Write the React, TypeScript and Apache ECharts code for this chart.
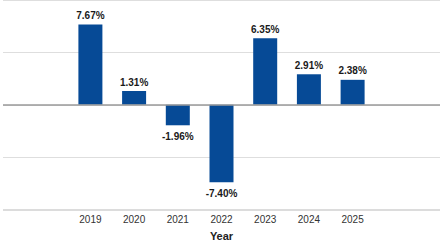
import React, { useEffect, useRef } from "react";
import * as echarts from "echarts";

// Annual change by year, in percent
const years: number[] = [2019, 2020, 2021, 2022, 2023, 2024, 2025];
const changes: number[] = [7.67, 1.31, -1.96, -7.4, 6.35, 2.91, 2.38];
const axisTitle = "Year";

const BAR_COLOR = "#064a96";
const LABEL_FONT = '"Liberation Sans Narrow", "Arial Narrow", "Liberation Sans", Arial, sans-serif';

export default function App() {
  const ref = useRef<HTMLDivElement>(null);

  useEffect(() => {
    if (!ref.current) return;
    const chart = echarts.init(ref.current, undefined, { renderer: "svg" });

    const data = years.map((y, i) => ({
      value: [y, changes[i]],
      label:
        changes[i] < 0
          ? { position: "bottom", distance: 6 }
          : { position: "top", distance: 4 },
    }));

    chart.setOption({
      animation: false,
      backgroundColor: "#ffffff",
      grid: { left: 0, right: 0, top: 0, bottom: 37.5, containLabel: false },
      xAxis: {
        type: "value",
        min: 2017,
        max: 2027,
        interval: 1,
        name: axisTitle,
        nameLocation: "middle",
        nameGap: 21,
        nameTextStyle: {
          fontFamily: LABEL_FONT,
          fontWeight: "bold",
          fontSize: 11,
          color: "#222",
        },
        axisLine: { show: false, onZero: false },
        axisTick: { show: false },
        splitLine: { show: false },
        axisLabel: {
          margin: 5,
          fontFamily: LABEL_FONT,
          fontSize: 10,
          color: "#333",
          formatter: (v: number) => (years.indexOf(v) >= 0 ? String(v) : ""),
        },
      },
      yAxis: {
        type: "value",
        min: -10,
        max: 10,
        interval: 5,
        axisLabel: { show: false },
        axisLine: { show: false },
        axisTick: { show: false },
        splitLine: { show: true, lineStyle: { color: "#dedede", width: 1 } },
      },
      series: [
        {
          type: "bar",
          barWidth: 24,
          data,
          itemStyle: { color: BAR_COLOR },
          label: {
            show: true,
            fontFamily: LABEL_FONT,
            fontWeight: "bold",
            fontSize: 10,
            color: "#1a1a1a",
            formatter: (p: any) => p.value[1].toFixed(2) + "%",
          },
          markLine: {
            silent: true,
            symbol: "none",
            label: { show: false },
            data: [
              { yAxis: 0, lineStyle: { color: "#9a9a9a", width: 1.5, type: "solid" } },
              { yAxis: -10, lineStyle: { color: "#dcdcdc", width: 2, type: "solid" } },
            ],
          },
        },
      ],
    });

    return () => chart.dispose();
  }, []);

  return (
    <div
      ref={ref}
      style={{ position: "fixed", left: 0, top: 0, width: 443, height: 247 }}
    />
  );
}
